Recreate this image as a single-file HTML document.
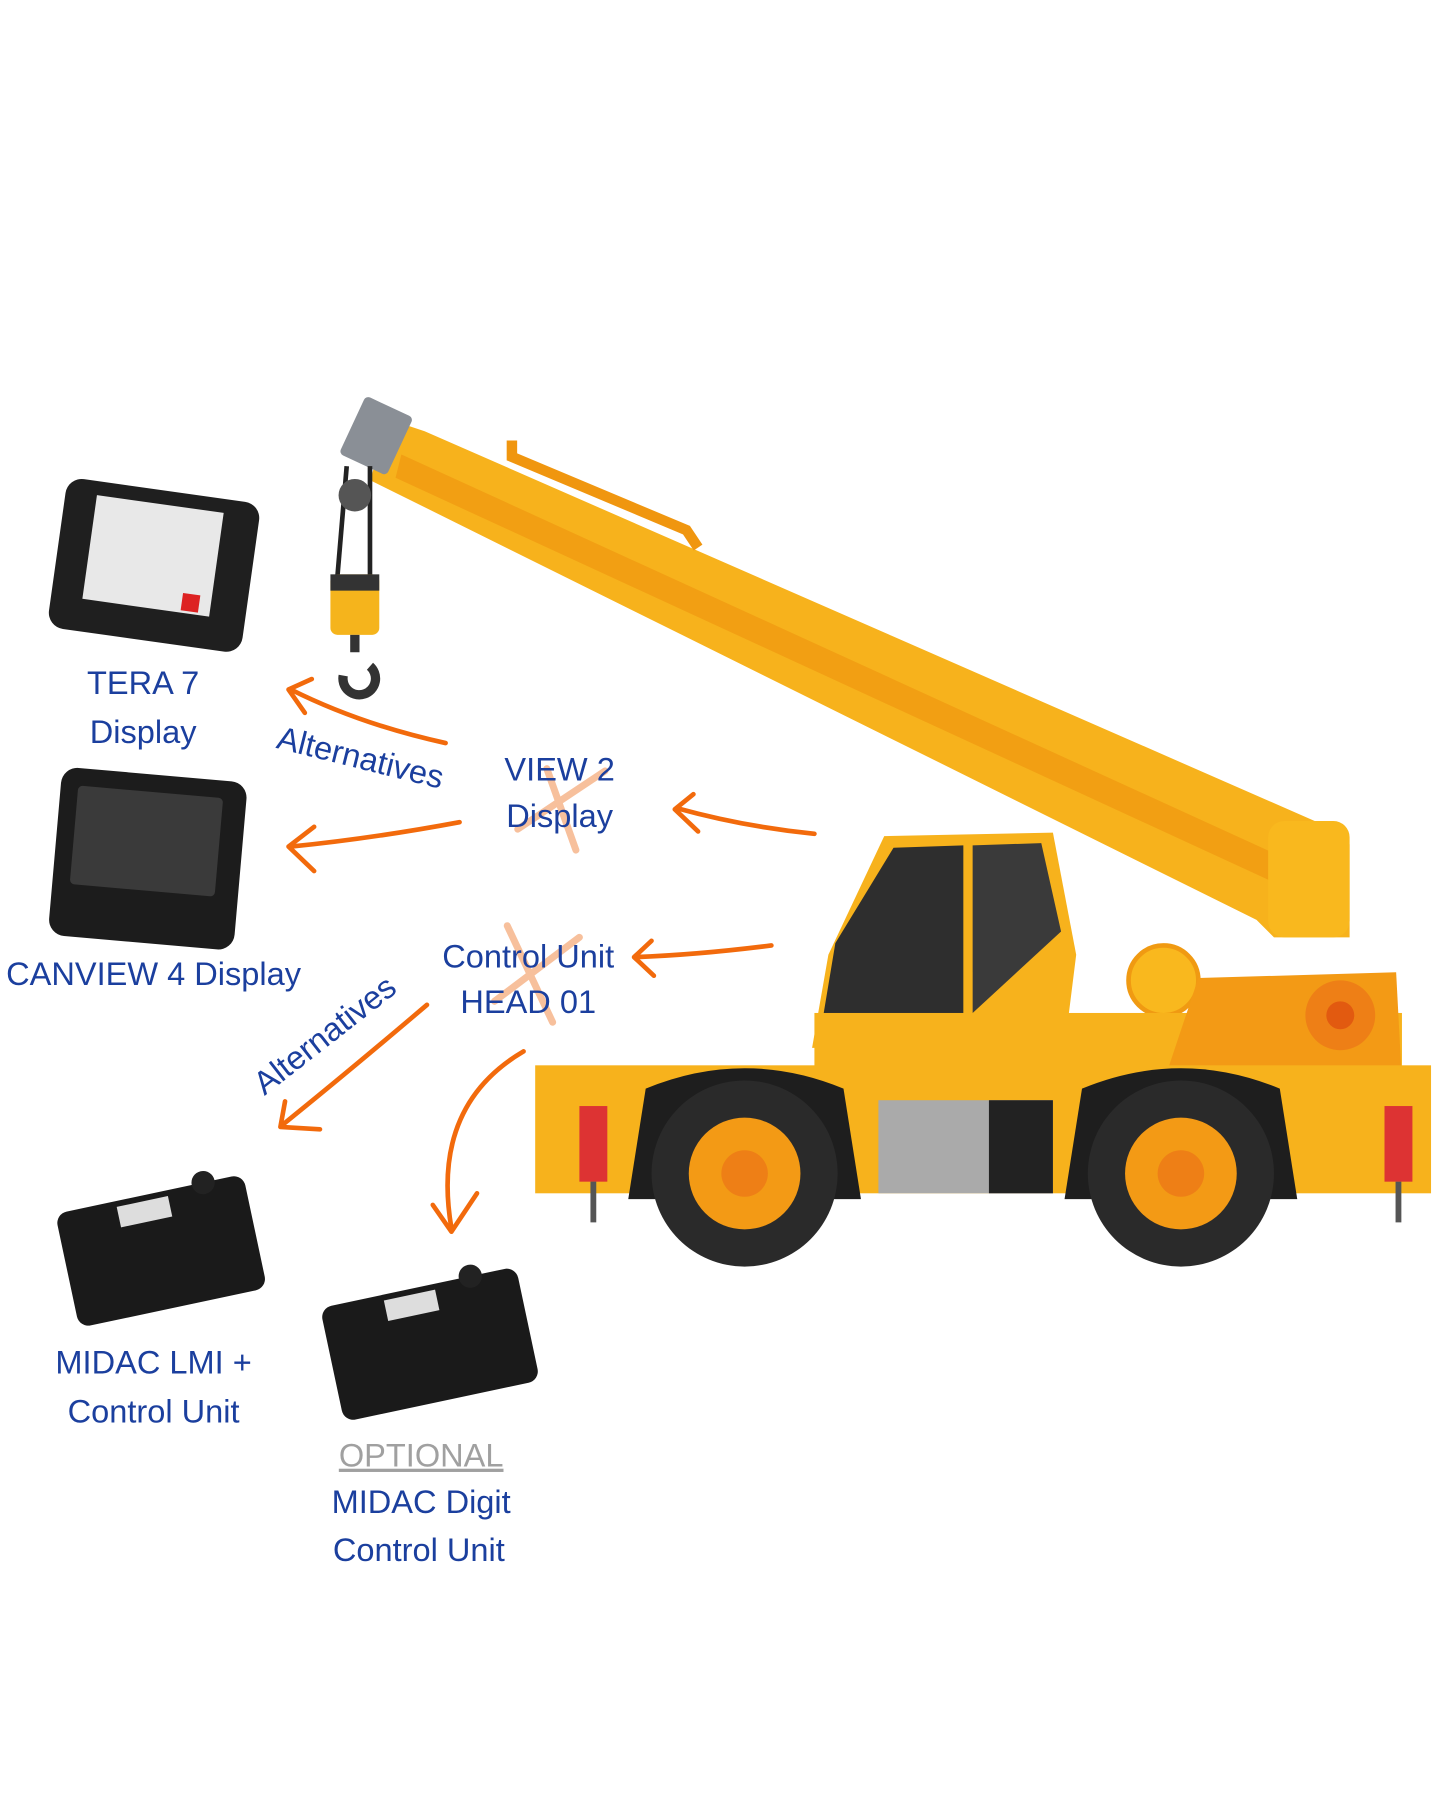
<!DOCTYPE html>
<html><head><meta charset="utf-8"><style>
html,body{margin:0;padding:0;background:#fff;}
svg{display:block}
text{font-family:"Liberation Sans",sans-serif;fill:#1b3f9e;}
</style></head><body>
<svg width="1445" height="1820" viewBox="0 0 1242 1563" xmlns="http://www.w3.org/2000/svg">
<rect width="1242" height="1563" fill="#fff"/>
<!-- boom -->
<polygon points="335,360 365,370 1130,705 1160,725 1160,805 1095,805 1080,790 318,412" fill="#f7b21c"/>
<polygon points="345,390 1100,735 1100,760 340,410" fill="#f09a12" opacity="0.8"/>
<polyline points="440,378 440,392 590,455 600,470" fill="none" stroke="#f0960f" stroke-width="9"/>
<rect x="1090" y="705" width="70" height="100" rx="14" fill="#f9b81e"/>
<!-- hook -->
<g transform="rotate(25 320 375)"><rect x="300" y="345" width="45" height="55" rx="4" fill="#8a8f96"/></g>
<line x1="298" y1="400" x2="290" y2="495" stroke="#222" stroke-width="4"/>
<line x1="318" y1="400" x2="318" y2="495" stroke="#222" stroke-width="4"/>
<circle cx="305" cy="425" r="14" fill="#555"/>
<rect x="284" y="493" width="42" height="52" rx="6" fill="#f5b41c"/>
<rect x="284" y="493" width="42" height="14" fill="#333"/>
<path d="M305 545 L305 560 M318 572 A14 14 0 1 1 295 580" fill="none" stroke="#333" stroke-width="8"/>
<!-- cab -->
<polygon points="760,718 905,715 925,820 915,900 698,900 712,820" fill="#f7b21c"/>
<polygon points="768,728 828,726 828,870 708,870 718,810" fill="#2e2e2e"/>
<polygon points="836,726 895,724 912,800 836,870" fill="#3a3a3a"/>
<circle cx="1000" cy="842" r="30" fill="#f9b81e" stroke="#f09a12" stroke-width="4"/>
<!-- body -->
<rect x="700" y="870" width="505" height="52" fill="#f7b21c"/>
<polygon points="1030,840 1200,835 1205,930 1000,930" fill="#f39a15"/>
<circle cx="1152" cy="872" r="30" fill="#ee7f16"/><circle cx="1152" cy="872" r="12" fill="#e25a10"/>
<!-- chassis -->
<rect x="460" y="915" width="770" height="110" fill="#f7b21c"/>
<path d="M540 1030 L555 935 Q640 900 725 935 L740 1030 Z" fill="#1e1e1e"/>
<path d="M915 1030 L930 935 Q1015 900 1100 935 L1115 1030 Z" fill="#1e1e1e"/>
<rect x="755" y="945" width="150" height="80" fill="#aaa"/>
<rect x="850" y="945" width="55" height="80" fill="#222"/>
<circle cx="640" cy="1008" r="80" fill="#2a2a2a"/><circle cx="640" cy="1008" r="48" fill="#f39a15"/><circle cx="640" cy="1008" r="20" fill="#ee7f16"/>
<circle cx="1015" cy="1008" r="80" fill="#2a2a2a"/><circle cx="1015" cy="1008" r="48" fill="#f39a15"/><circle cx="1015" cy="1008" r="20" fill="#ee7f16"/>
<rect x="498" y="950" width="24" height="65" fill="#d33"/><rect x="1190" y="950" width="24" height="65" fill="#d33"/>
<line x1="510" y1="1015" x2="510" y2="1050" stroke="#555" stroke-width="5"/>
<line x1="1202" y1="1015" x2="1202" y2="1050" stroke="#555" stroke-width="5"/>
<!-- devices -->
<g transform="rotate(8 130 488)"><rect x="48" y="420" width="168" height="130" rx="14" fill="#1f1f1f"/><rect x="75" y="432" width="110" height="90" fill="#e8e8e8"/><rect x="160" y="505" width="15" height="15" fill="#d22"/></g>
<g transform="rotate(5 128 738)"><rect x="47" y="665" width="160" height="145" rx="14" fill="#1c1c1c"/><rect x="62" y="680" width="125" height="85" rx="4" fill="#3a3a3a"/></g>
<g transform="rotate(-12 136 1070)"><rect x="55" y="1025" width="165" height="100" rx="10" fill="#1a1a1a"/><rect x="108" y="1030" width="45" height="18" fill="#ddd"/><circle cx="185" cy="1025" r="10" fill="#222"/></g>
<g transform="rotate(-12 368 1152)"><rect x="283" y="1105" width="172" height="100" rx="10" fill="#1a1a1a"/><rect x="338" y="1110" width="45" height="18" fill="#ddd"/><circle cx="415" cy="1105" r="10" fill="#222"/></g>
<!-- arrows -->
<g fill="none" stroke="#f26a0c" stroke-width="4" stroke-linecap="round" stroke-linejoin="round">
<path d="M383 638 Q310 622 250 592"/><path d="M268 583 L248 592 L262 612"/>
<path d="M395 706 Q320 720 250 727"/><path d="M270 710 L248 727 L270 748"/>
<path d="M700 716 Q640 710 582 694"/><path d="M596 682 L580 695 L600 714"/>
<path d="M663 812 Q600 820 546 822"/><path d="M560 808 L545 822 L562 838"/>
<path d="M367 863 Q300 920 243 966"/><path d="M245 946 L241 968 L275 970"/>
<path d="M450 903 Q370 950 388 1055"/><path d="M372 1035 L388 1058 L410 1025"/>
</g>
<g stroke="#f5a673" stroke-width="6" opacity="0.7" stroke-linecap="round">
<line x1="470" y1="660" x2="495" y2="730"/><line x1="520" y1="662" x2="445" y2="712"/>
<line x1="436" y1="795" x2="475" y2="878"/><line x1="498" y1="805" x2="425" y2="860"/>
</g>
<!-- text -->
<g font-size="28" text-anchor="middle">
<text x="123" y="596">TERA 7</text><text x="123" y="638">Display</text>
<text x="481" y="670">VIEW 2</text><text x="481" y="710">Display</text>
<text x="132" y="846">CANVIEW 4 Display</text>
<text x="454" y="831">Control Unit</text><text x="454" y="870">HEAD 01</text>
<text x="132" y="1180">MIDAC LMI +</text><text x="132" y="1222">Control Unit</text>
<text x="362" y="1260" style="fill:#a0a0a0" text-decoration="underline">OPTIONAL</text>
<text x="362" y="1300">MIDAC Digit</text><text x="360" y="1341">Control Unit</text>
<text x="310" y="660" transform="rotate(14 310 650)">Alternatives</text>
<text x="280" y="898" transform="rotate(-38 280 890)">Alternatives</text>
</g>
</svg>
</body></html>
